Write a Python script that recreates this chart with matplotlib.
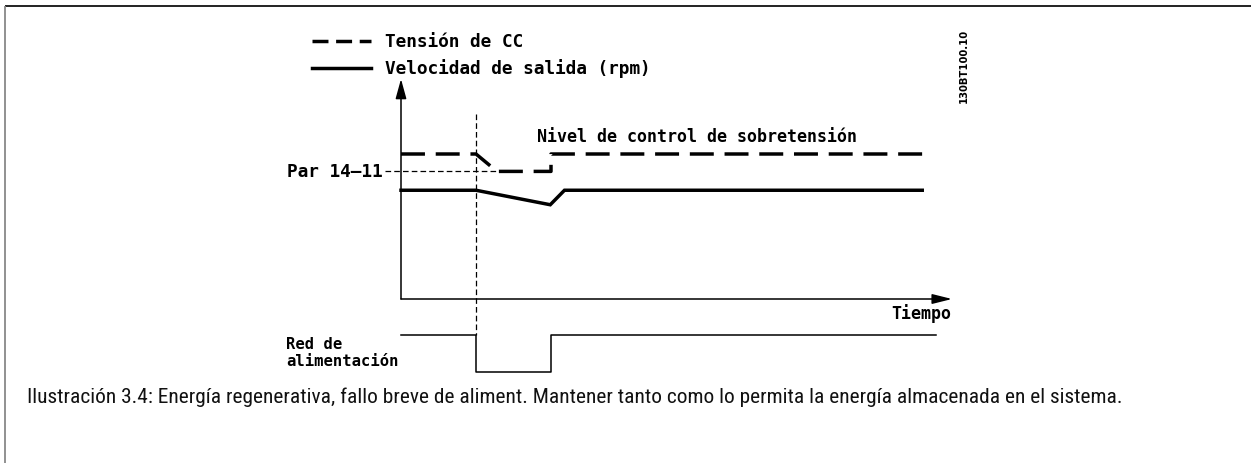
import numpy as np
import matplotlib
matplotlib.use("Agg")
import matplotlib.pyplot as plt
from matplotlib import font_manager

# time axis (arbitrary units, 0 = y axis, power lost at 1, back at 2)
t_dc = [0.0, 1.0, 1.28, 2.0, 2.0, 7.0]
dc_voltage = [100, 100, 88, 88, 100, 100]      # DC link voltage (% of level)
t_speed = [0.0, 1.0, 1.99, 2.18, 6.95]
speed = [75, 75, 65, 75, 75]                   # output speed
t_mains = [0.0, 1.0, 1.0, 2.0, 2.0, 7.13]
mains_on = [1, 1, 0, 0, 1, 1]                  # mains present / lost
par_level = 88                                 # par. 14-11 level
t_fail = 1.0

legend_labels = ["Tensión de CC", "Velocidad de salida (rpm)"]
caption = ("Ilustración 3.4: Energía regenerativa, fallo breve de aliment. "
           "Mantener tanto como lo permita la energía almacenada en el sistema.")


def pick_font(names):
    for n in names:
        try:
            font_manager.findfont(n, fallback_to_default=False)
            return n
        except Exception:
            pass
    return "DejaVu Sans"


cap_font = pick_font(["Liberation Sans Narrow", "DejaVu Sans Condensed",
                      "Roboto Condensed", "Open Sans Condensed", "Liberation Sans"])

W, H = 1251, 464
fig = plt.figure(figsize=(W / 100, H / 100), dpi=100)
ax = fig.add_axes([0, 0, 1, 1])
ax.axis("off")

# pixel mapping: x = 401 + 75*t, y = 300 - 1.45*level
px_t, px_l = 75.0, 1.45
x0, y0 = 401.0, 300.0
ax.set_xlim(-x0 / px_t, (W - x0) / px_t)
ax.set_ylim((y0 - H) / px_l, y0 / px_l)


def X(px):
    return (px - x0) / px_t


def Y(py):
    return (y0 - py) / px_l


mono = dict(family="DejaVu Sans Mono", fontweight="bold", color="black")

# frame (top and left only)
ax.plot([X(5), X(W)], [Y(7), Y(7)], color="#111111", lw=1.3, solid_capstyle="butt")
ax.plot([X(5), X(5)], [Y(7), Y(H)], color="#888888", lw=1.3, solid_capstyle="butt")

# axes with arrows
ax.annotate("", xy=(0, Y(80)), xytext=(0, 0),
            arrowprops=dict(arrowstyle="-|>,head_length=1.2,head_width=0.33",
                            mutation_scale=10, color="black", lw=1.1,
                            shrinkA=0, shrinkB=0))
ax.annotate("", xy=(X(952), 0), xytext=(0, 0),
            arrowprops=dict(arrowstyle="-|>,head_length=1.2,head_width=0.3",
                            mutation_scale=10, color="black", lw=1.1,
                            shrinkA=0, shrinkB=0))

# curves
dash = (0, (6.9, 3.1))
ax.plot(t_dc, dc_voltage, color="black", lw=2.5, linestyle=dash)
ax.plot(t_speed, speed, color="black", lw=2.5, solid_joinstyle="miter")
mains_level = [-50 + 25 * m for m in mains_on]
ax.plot(t_mains, mains_level, color="black", lw=1.1)

# helper dashed lines
thin = (0, (4.5, 2.5))
ax.plot([t_fail, t_fail], [Y(115), mains_level[0]], color="black", lw=0.9, linestyle=thin)
ax.plot([X(385), 1.28], [par_level, par_level], color="black", lw=0.9, linestyle=thin)

# legend
ax.plot([X(312), X(371)], [Y(42), Y(42)], color="black", lw=2.5, linestyle=(0, (4.6, 2.2)))
ax.plot([X(312), X(371)], [Y(69), Y(69)], color="black", lw=2.5)
ax.text(X(385), Y(42), legend_labels[0], ha="left", va="center", fontsize=12.8, **mono)
ax.text(X(385), Y(69), legend_labels[1], ha="left", va="center", fontsize=12.8, **mono)

# labels
ax.text(X(383), par_level, "Par 14\u201411", ha="right", va="center", fontsize=12.8, **mono)
ax.text(X(537), Y(137), "Nivel de control de sobretensión", ha="left", va="center",
        fontsize=12, **mono)
ax.text(X(951), Y(314), "Tiempo", ha="right", va="center", fontsize=12, **mono)
ax.text(X(286), Y(353), "Red de\nalimentación", ha="left", va="center",
        linespacing=1.15, fontsize=11.2, **mono)
ax.text(X(964), Y(66), "130BT100.10", ha="center", va="center", rotation=90,
        family="DejaVu Sans", fontweight="bold", fontsize=7.2, color="black")

# caption, sized to span the same width as in the source figure
cap = ax.text(X(27), Y(397), caption, ha="left", va="center",
              family=cap_font, fontsize=11, color="#111111")
fig.canvas.draw()
w = cap.get_window_extent().width
cap.set_fontsize(11 * 1093.0 / w)

fig.savefig("out.png", dpi=100)
